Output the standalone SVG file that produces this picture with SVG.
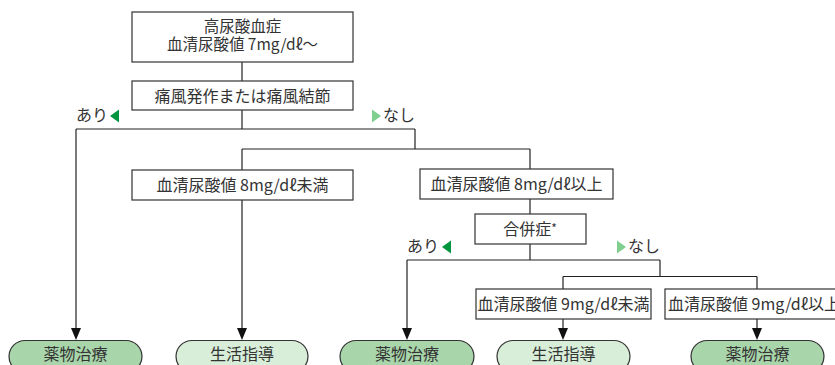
<svg xmlns="http://www.w3.org/2000/svg" width="835" height="365" viewBox="0 0 835 365">
<defs>
<style>
.box{fill:#fff;stroke:#333;stroke-width:1.2}
.pillD{fill:#a8d5aa;stroke:#333;stroke-width:1.2}
.pillL{fill:#d8eed9;stroke:#333;stroke-width:1.2}
.t{font-family:"Noto Sans CJK JP","Noto Sans",sans-serif;font-size:16px;fill:#333;text-anchor:middle}
.tl{font-family:"Noto Sans CJK JP","Noto Sans",sans-serif;font-size:16px;fill:#333}
.ln{fill:none;stroke:#222;stroke-width:1.2}
.ar{fill:#00953f}
.nl{fill:#7fcf8f}
.hd{fill:#111}
</style>
</defs>

<g id="connectors">
<path class="ln" d="M242,62 V81"/>
<path class="ln" d="M242,110 V129"/>
<path class="ln" d="M76,129 H415"/>
<path class="ln" d="M415,129 V149"/>
<path class="ln" d="M242,149 H530"/>
<path class="ln" d="M242,149 V170"/>
<path class="ln" d="M530,149 V169"/>
<path class="ln" d="M530,199 V214"/>
<path class="ln" d="M530,244 V260"/>
<path class="ln" d="M407,260 H660"/>
<path class="ln" d="M660,260 V276.5"/>
<path class="ln" d="M563,276.5 H757"/>
<path class="ln" d="M563,276.5 V289"/>
<path class="ln" d="M757,276.5 V289"/>
<path class="ln" d="M76,129 V330"/>
<path class="ln" d="M242,200 V330"/>
<path class="ln" d="M407,260 V330"/>
<path class="ln" d="M563,319 V330"/>
<path class="ln" d="M757,319 V330"/>
<path class="hd" d="M71,328 L81,328 L76,340 Z"/>
<path class="hd" d="M237,328 L247,328 L242,340 Z"/>
<path class="hd" d="M402,328 L412,328 L407,340 Z"/>
<path class="hd" d="M558,328 L568,328 L563,340 Z"/>
<path class="hd" d="M752,328 L762,328 L757,340 Z"/>
</g>

<g id="labels">
<text class="tl" x="76" y="121">あり</text>
<polygon class="ar" points="119,109.5 119,122.5 110,116"/>
<polygon class="nl" points="372,109.5 372,122.5 381,116"/>
<text class="tl" x="383" y="121">なし</text>
<text class="tl" x="407" y="252">あり</text>
<polygon class="ar" points="451,240.5 451,253.5 442,247"/>
<polygon class="nl" points="617,240.5 617,253.5 626,247"/>
<text class="tl" x="628" y="252">なし</text>
</g>

<g id="n-hyper">
<rect class="box" x="132" y="12" width="221" height="50"/>
<text class="t" style="font-size:15.5px"><tspan x="242.5" y="32">高尿酸血症</tspan><tspan x="242.5" y="50">血清尿酸値 7mg/dℓ～</tspan></text>
</g>

<g id="n-gout">
<rect class="box" x="132" y="81" width="221" height="29"/>
<text class="t" x="242.5" y="101.5">痛風発作または痛風結節</text>
</g>

<g id="n-lt8">
<rect class="box" x="132" y="170" width="221" height="30"/>
<text class="t" x="242.5" y="190.5">血清尿酸値 8mg/dℓ未満</text>
</g>

<g id="n-ge8">
<rect class="box" x="420" y="169" width="193" height="30"/>
<text class="t" x="516.5" y="189.5">血清尿酸値 8mg/dℓ以上</text>
</g>

<g id="n-comp">
<rect class="box" x="475" y="214" width="111" height="30"/>
<text class="t" x="530" y="234.5">合併症<tspan font-size="12" dy="-2">*</tspan></text>
</g>

<g id="n-lt9">
<rect class="box" x="476" y="289" width="175" height="30"/>
<text class="t" x="563.5" y="309.5">血清尿酸値 9mg/dℓ未満</text>
</g>

<g id="n-ge9">
<rect class="box" x="665" y="289" width="178" height="30"/>
<text class="tl" x="668" y="309.5">血清尿酸値 9mg/dℓ以上</text>
</g>

<g id="p1">
<rect class="pillD" x="9" y="340.5" width="133" height="32" rx="16"/>
<text class="t" x="75.5" y="360">薬物治療</text>
</g>
<g id="p2">
<rect class="pillL" x="176" y="340.5" width="132" height="32" rx="16"/>
<text class="t" x="242" y="360">生活指導</text>
</g>
<g id="p3">
<rect class="pillD" x="340" y="340.5" width="134" height="32" rx="16"/>
<text class="t" x="407" y="360">薬物治療</text>
</g>
<g id="p4">
<rect class="pillL" x="497" y="340.5" width="133" height="32" rx="16"/>
<text class="t" x="563.5" y="360">生活指導</text>
</g>
<g id="p5">
<rect class="pillD" x="691" y="340.5" width="133" height="32" rx="16"/>
<text class="t" x="757.5" y="360">薬物治療</text>
</g>
</svg>
